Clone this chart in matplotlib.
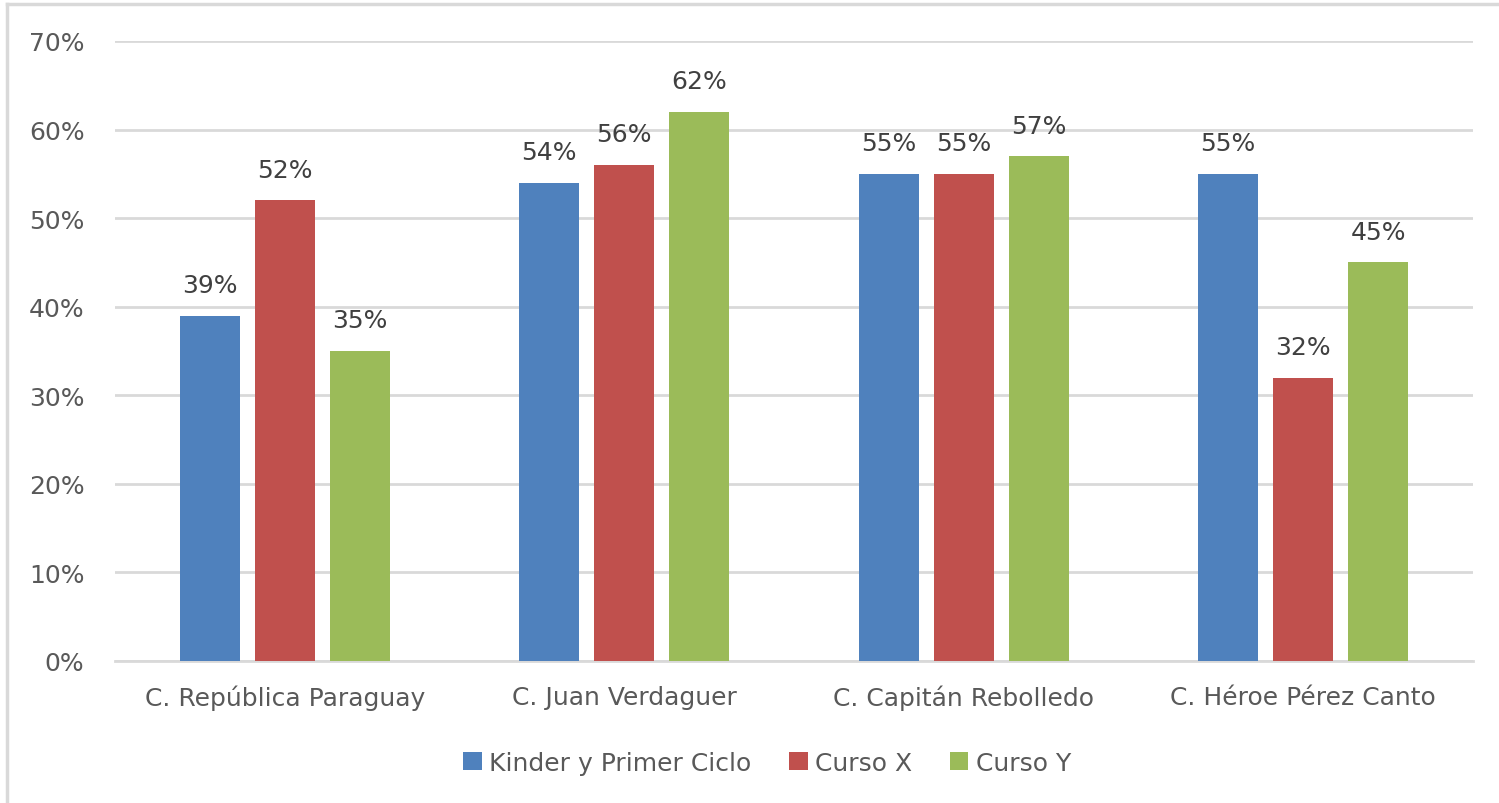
import matplotlib.pyplot as plt
import numpy as np
from matplotlib.lines import Line2D

plt.rcParams['font.family'] = ['DejaVu Sans']

categories = ['C. República Paraguay', 'C. Juan Verdaguer', 'C. Capitán Rebolledo', 'C. Héroe Pérez Canto']
series = ['Kinder y Primer Ciclo', 'Curso X', 'Curso Y']
kinder = [39, 54, 55, 55]
curso_x = [52, 56, 55, 32]
curso_y = [35, 62, 57, 45]
colors = ['#4F81BD', '#C0504D', '#9BBB59']

text_color = '#595959'
label_color = '#404040'
grid_color = '#D9D9D9'
fs = 18

fig = plt.figure(figsize=(14.99, 8.04), dpi=100)
ax = fig.add_axes([115 / 1499, 1 - 662 / 804, 1358 / 1499, 620 / 804])

# light frame on the left and top edges
fig.lines.append(Line2D([7 / 1499, 7 / 1499], [0, 1 - 5 / 804], transform=fig.transFigure,
                        color=grid_color, linewidth=2.5))
fig.lines.append(Line2D([7 / 1499, 1], [1 - 5 / 804, 1 - 5 / 804], transform=fig.transFigure,
                        color=grid_color, linewidth=2.5))

x = np.arange(len(categories))
width = 0.177
step = 0.221
for i, (vals, name) in enumerate(zip([kinder, curso_x, curso_y], series)):
    pos = x + (i - 1) * step
    bars = ax.bar(pos, vals, width, color=colors[i], label=name, zorder=3)
    for b, v in zip(bars, vals):
        ax.text(b.get_x() + b.get_width() / 2, v + 2.1, f'{v}%', ha='center', va='bottom',
                fontsize=fs, color=label_color)

ax.set_xlim(-0.5, len(categories) - 0.5)
ax.set_ylim(0, 70)
ax.set_yticks(range(0, 71, 10))
ax.set_yticklabels([f'{t}%' for t in range(0, 71, 10)])
ax.set_xticks(x)
ax.set_xticklabels(categories)
ax.grid(axis='y', color=grid_color, linewidth=2, zorder=0)
for s in ['top', 'right', 'left']:
    ax.spines[s].set_visible(False)
ax.spines['bottom'].set_color(grid_color)
ax.spines['bottom'].set_linewidth(2)
ax.tick_params(axis='both', length=0, labelsize=fs, labelcolor=text_color)
ax.tick_params(axis='y', pad=22)
ax.tick_params(axis='x', pad=17)

leg = fig.legend(loc='center', bbox_to_anchor=(767 / 1499, 1 - 764 / 804), ncol=3, frameon=False,
                 fontsize=fs, handlelength=0.75, handleheight=0.75, columnspacing=1.5,
                 handletextpad=0.3)
for t in leg.get_texts():
    t.set_color(text_color)

fig.savefig('out.png', dpi=100)
